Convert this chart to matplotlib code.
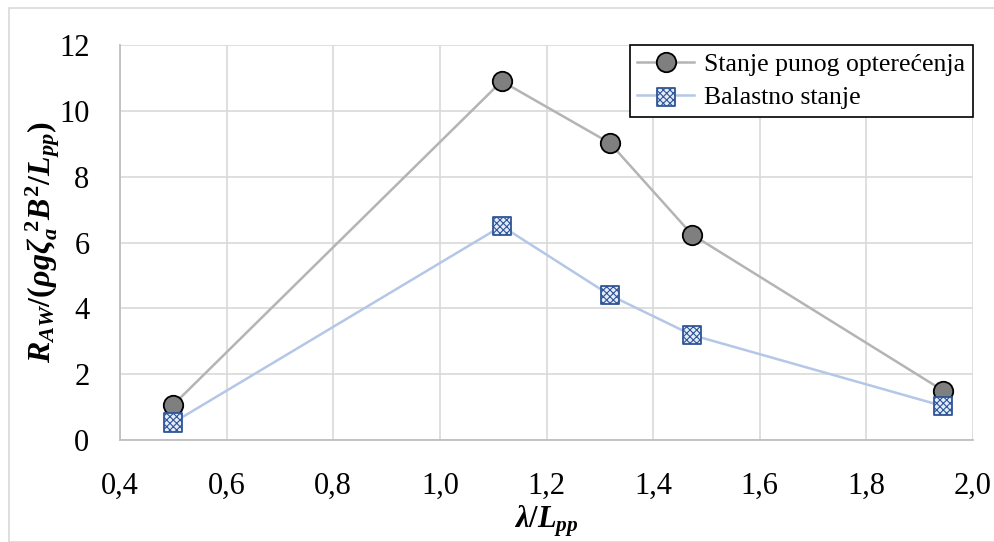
import matplotlib.pyplot as plt
from matplotlib.ticker import FuncFormatter

plt.rcParams['font.family'] = 'serif'
plt.rcParams['font.serif'] = ['Liberation Serif', 'DejaVu Serif']
plt.rcParams['mathtext.fontset'] = 'custom'
plt.rcParams['mathtext.it'] = 'Liberation Serif:italic:bold'
plt.rcParams['mathtext.rm'] = 'Liberation Serif:bold'
plt.rcParams['hatch.linewidth'] = 0.8

# Données
x_puno = [0.50, 1.116, 1.319, 1.473, 1.944]
y_puno = [1.07, 10.9, 9.02, 6.24, 1.50]
x_balast = [0.50, 1.116, 1.319, 1.473, 1.944]
y_balast = [0.53, 6.50, 4.40, 3.19, 1.03]
label_puno = "Stanje punog opterećenja"
label_balast = "Balastno stanje"

fig = plt.figure(figsize=(9.95, 5.42), dpi=100)
ax = fig.add_axes([120 / 995, 1 - 440 / 542, 853 / 995, 395 / 542])

l1, = ax.plot(x_puno, y_puno, color="#b4b4b4", lw=1.8, marker="o", ms=14,
              mfc="#7f7f7f", mec="black", mew=1.3, zorder=3)
l2, = ax.plot(x_balast, y_balast, color="#b4c7e7", lw=1.8, zorder=3)
sc = ax.scatter(x_balast, y_balast, marker="s", s=170, facecolor="#e3ecfa",
                edgecolor="#2f5597", hatch="xxxxx", linewidth=1.3, zorder=4)

ax.set_xlim(0.4, 2.0)
ax.set_ylim(0, 12)
ax.set_xticks([0.4 + 0.2 * i for i in range(9)])
ax.set_yticks(range(0, 13, 2))
ax.xaxis.set_major_formatter(FuncFormatter(lambda v, p: f"{v:.1f}".replace(".", ",")))
ax.tick_params(labelsize=22, length=0)
ax.tick_params(axis="x", pad=23)
ax.tick_params(axis="y", pad=22)
ax.grid(True, color="#d9d9d9", lw=1.2)
ax.set_axisbelow(True)
for s in ["top", "right"]:
    ax.spines[s].set_visible(False)
for s in ["left", "bottom"]:
    ax.spines[s].set_color("#bfbfbf")
    ax.spines[s].set_linewidth(1.3)

ax.set_xlabel(r"$\lambda / L_{pp}$", fontsize=22, labelpad=2)
ax.set_ylabel(r"$R_{AW}/(\rho g \zeta_a^{\ 2} B^2/L_{pp})$", fontsize=23, labelpad=-2)

leg = ax.legend([l1, (l2, sc)], [label_puno, label_balast], loc="upper right",
                fontsize=18.5, frameon=True, fancybox=False, edgecolor="black",
                borderaxespad=0, handlelength=2.2, framealpha=1, borderpad=0.3,
                labelspacing=0.4, handletextpad=0.4)
leg.get_frame().set_linewidth(1.2)

# cadre de la figure
fig.patches.append(plt.Rectangle((9 / 995, 0), 1, 1 - 8 / 542, transform=fig.transFigure,
                                 fill=False, edgecolor="#d9d9d9", lw=1.2))

plt.savefig("out.png", dpi=100)
